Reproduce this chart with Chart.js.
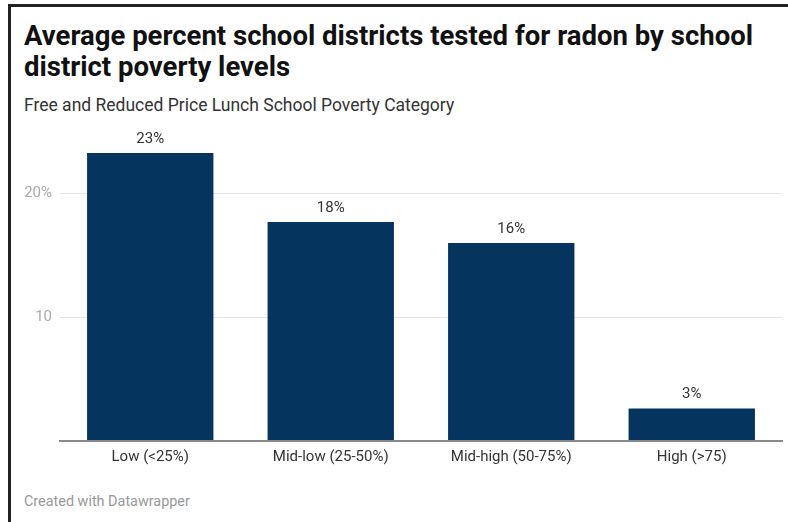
<!DOCTYPE html>
<html>
<head>
<meta charset="utf-8">
<script src="https://cdn.jsdelivr.net/npm/chart.js@4"></script>
<style>
    html, body { margin: 0; padding: 0; background: #ffffff; }
    body { width: 788px; height: 522px; position: relative; overflow: hidden; font-family: Roboto, 'Noto Sans', sans-serif; }
    .frame { position: absolute; left: 8px; top: 4px; right: -10px; bottom: -10px; border-top: 3px solid #222; border-left: 3px solid #222; }
    .title { position: absolute; left: 24px; top: 19.5px; font-size: 27.5px; font-weight: 700; line-height: 31px; color: #111; white-space: nowrap; }
    .subtitle { position: absolute; left: 24px; top: 95px; font-size: 17.5px; line-height: normal; color: #333; white-space: nowrap; }
    .footer { position: absolute; left: 24px; top: 493px; font-size: 14.4px; line-height: normal; color: #999; }
    #chartWrap { position: absolute; left: 0; top: 0; width: 788px; height: 522px; }
</style>
</head>
<body>
<div class="frame"></div>
<div class="title">Average percent school districts tested for radon by school<br>district poverty levels</div>
<div class="subtitle">Free and Reduced Price Lunch School Poverty Category</div>
<div class="footer">Created with Datawrapper</div>
<div id="chartWrap"><canvas id="radonChart"></canvas></div>

<script>
// --- DATA ---
const categories = ['Low (<25%)', 'Mid-low (25-50%)', 'Mid-high (50-75%)', 'High (>75)'];
const testedPercent = [23.3, 17.7, 16.0, 2.6];
const yTickValues = [10, 20];
const yTickLabels = ['10', '20%'];

// --- VALUE LABELS ABOVE BARS ---
const valueLabelPlugin = {
    id: 'valueLabels',
    afterDatasetsDraw(chart) {
        const ctx = chart.ctx;
        const meta = chart.getDatasetMeta(0);
        ctx.save();
        ctx.font = "15px Roboto, 'Noto Sans', sans-serif";
        ctx.fillStyle = '#333333';
        ctx.textAlign = 'center';
        ctx.textBaseline = 'alphabetic';
        meta.data.forEach((bar, i) => {
            ctx.fillText(Math.round(testedPercent[i]) + '%', bar.x, bar.y - 10);
        });
        ctx.restore();
    }
};

const ctx = document.getElementById('radonChart').getContext('2d');

new Chart(ctx, {
    type: 'bar',
    data: {
        labels: categories,
        datasets: [{
            data: testedPercent,
            backgroundColor: '#05345f',
            borderWidth: 0,
            categoryPercentage: 1.0,
            barPercentage: 0.7
        }]
    },
    options: {
        responsive: true,
        maintainAspectRatio: false,
        animation: false,
        layout: { padding: { left: 0, right: 6, top: 132, bottom: 0 } },
        plugins: {
            legend: { display: false },
            tooltip: { enabled: false }
        },
        scales: {
            y: {
                min: 0,
                max: 25,
                afterFit(scale) { scale.width = 60; },
                afterBuildTicks(scale) {
                    scale.ticks = [0].concat(yTickValues).map(v => ({ value: v }));
                },
                ticks: {
                    color: '#aaaaaa',
                    font: { family: "Roboto, 'Noto Sans', sans-serif", size: 15 },
                    padding: 8,
                    callback: (value) => {
                        const idx = yTickValues.indexOf(value);
                        return idx === -1 ? '' : yTickLabels[idx];
                    }
                },
                grid: {
                    color: (c) => c.tick && c.tick.value === 0 ? 'rgba(0,0,0,0)' : '#e6e6e6',
                    lineWidth: 1,
                    drawTicks: false
                },
                border: { display: false }
            },
            x: {
                afterFit(scale) { scale.height = 81.5; },
                ticks: {
                    color: '#333333',
                    font: { family: "Roboto, 'Noto Sans', sans-serif", size: 15 },
                    padding: 8,
                    maxRotation: 0
                },
                grid: { display: false, drawTicks: false },
                border: { display: true, color: '#888888', width: 2 }
            }
        }
    },
    plugins: [valueLabelPlugin]
});
</script>
</body>
</html>
